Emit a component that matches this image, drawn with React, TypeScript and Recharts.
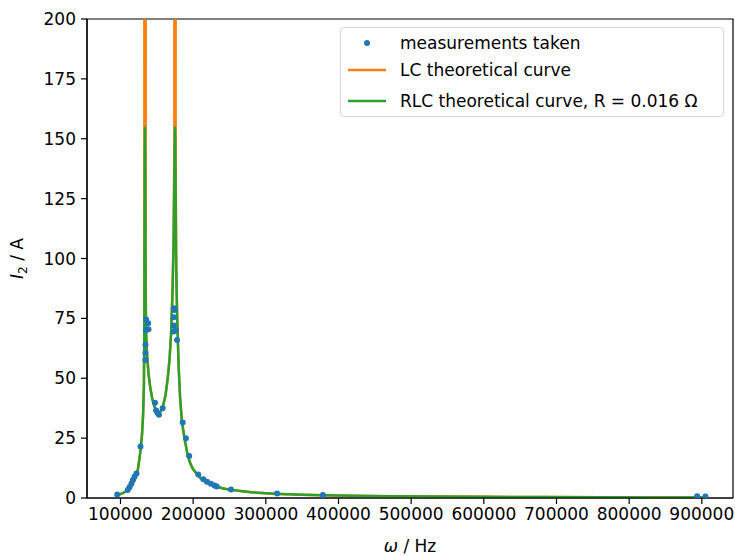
import React from 'react';
import { ComposedChart, Line, Scatter, XAxis, YAxis, ReferenceArea } from 'recharts';

// measured points (omega in Hz, I2 in A)
const measHz = [95500, 110000, 112400, 115000, 117000, 119300, 122000, 127500,
  134200, 134300, 134400, 134800, 135300, 138000, 138500,
  147500, 149000, 151000, 153000, 158000,
  173300, 173600, 174600, 173400, 173200, 176300, 177800,
  185600, 190000, 194500, 207000, 214000, 219000, 224500, 229500, 232500, 252000,
  315500, 378500, 893500, 905000];
const measI = [1.5, 3.3, 4.5, 6.0, 7.5, 8.9, 10.2, 21.5,
  57.6, 60.5, 64, 70, 74.5, 73, 70.5,
  39.8, 36.5, 35.5, 34.8, 37.5,
  75.5, 79.2, 78.5, 72, 69.5, 70, 66,
  31.5, 25, 17.5, 9.8, 7.8, 6.8, 6.0, 5.2, 4.8, 3.5,
  1.9, 1.3, 0.7, 0.6];

// RLC theoretical curve
const rlcHz = [94000, 100000, 105000, 110000, 115000, 120000, 124000, 127000, 129500, 131000,
  132200, 132800, 133300, 133700, 134100, 134600, 135300, 136500, 138500, 141000, 144000, 147000,
  150000, 153000, 156000, 159000, 162000, 165000, 167500, 169500, 171500, 173000,
  174200, 174600, 175000, 175400, 175900, 176700, 178000, 180000, 182000, 184500, 188000, 192000,
  196000, 200000, 205000, 210000, 216000, 222000, 230000, 240000, 250000, 265000,
  280000, 300000, 320000, 350000, 380000, 420000, 470000, 530000, 600000, 680000,
  760000, 840000, 902000];
const rlcI = [1.0, 1.6, 2.3, 3.3, 5.0, 8.0, 12, 18.5, 26, 34,
  46, 68, 140, 155, 140, 82, 68, 60, 52, 46, 41, 38,
  36, 35.5, 36.5, 39, 43, 50, 58, 68, 85, 105,
  135, 150, 155, 150, 125, 95, 75, 55, 42, 32, 25, 18.5,
  14.5, 12, 10, 8.3, 6.9, 6, 5, 4.1, 3.5, 2.9,
  2.4, 2.0, 1.7, 1.4, 1.15, 0.95, 0.75, 0.6, 0.48, 0.38,
  0.3, 0.25, 0.22];

// LC theoretical curve (diverges at the two resonances)
const lcHz = [94000, 100000, 105000, 110000, 115000, 120000, 124000, 127000, 129500, 131000,
  132200, 132800, 133100, 134300, 134700, 135300, 136500, 138500, 141000, 144000, 147000,
  150000, 153000, 156000, 159000, 162000, 165000, 167500, 169500, 171500, 173000,
  174200, 174400, 175600, 175900, 176700, 178000, 180000, 182000, 184500, 188000, 192000,
  196000, 200000, 205000, 210000, 216000, 222000, 230000, 240000, 250000, 265000,
  280000, 300000, 320000, 350000, 380000, 420000, 470000, 530000, 600000, 680000,
  760000, 840000, 902000];
const lcI = [1.0, 1.6, 2.3, 3.3, 5.0, 8.0, 12, 18.5, 26, 34,
  47, 74, 600, 600, 90, 69, 60, 52, 46, 41, 38,
  36, 35.5, 36.5, 39, 43, 50, 58, 68, 86, 108,
  150, 600, 600, 140, 98, 76, 55, 42, 32, 25, 18.5,
  14.5, 12, 10, 8.3, 6.9, 6, 5, 4.1, 3.5, 2.9,
  2.4, 2.0, 1.7, 1.4, 1.15, 0.95, 0.75, 0.6, 0.48, 0.38,
  0.3, 0.25, 0.22];

const xTicks = [100000, 200000, 300000, 400000, 500000, 600000, 700000, 800000, 900000];
const yTicks = [0, 25, 50, 75, 100, 125, 150, 175, 200];
const xDomain = [53900, 942900];
const yDomain = [0, 200];

const legendLabels = ['measurements taken', 'LC theoretical curve', 'RLC theoretical curve, R = 0.016 Ω'];

const FONT = '"DejaVu Sans", "Liberation Sans", sans-serif';
const BLUE = '#1f77b4';
const ORANGE = '#ff7f0e';
const GREEN = '#2ca02c';

const measData = measHz.map((x, i) => ({ x, y: measI[i] }));
const rlcData = rlcHz.map((x, i) => ({ x, y: rlcI[i] }));
const lcData = lcHz.map((x, i) => ({ x, y: lcI[i] }));

const tickStyle = { fontSize: 17, fontFamily: FONT, fill: '#000' };

const Dot = (p: any) => <circle cx={p.cx} cy={p.cy} r={3} fill={BLUE} />;

const XLabel = (props: any) => {
  const vb = props.viewBox || { x: 87, y: 498, width: 646, height: 30 };
  return (
    <text x={vb.x + vb.width / 2} y={vb.y + vb.height + 24} textAnchor="middle"
      fontFamily={FONT} fontSize={17} fill="#000">
      <tspan fontStyle="italic">ω</tspan><tspan> / Hz</tspan>
    </text>
  );
};

const YLabel = (props: any) => {
  const vb = props.viewBox || { x: 0, y: 19, width: 87, height: 479 };
  const cx = 23;
  const cy = vb.y + vb.height / 2;
  return (
    <text transform={`translate(${cx},${cy}) rotate(-90)`} textAnchor="middle"
      fontFamily={FONT} fontSize={17} fill="#000">
      <tspan fontStyle="italic">I</tspan>
      <tspan fontSize={12} dy={4}>2</tspan>
      <tspan dy={-4}> / A</tspan>
    </text>
  );
};

const LegendBox = () => {
  const rows = [41.7, 69, 100];
  return (
    <div style={{
      position: 'absolute', left: 340, top: 27, width: 384, height: 90,
      border: '1px solid #d6d6d6', borderRadius: 4, background: 'rgba(255,255,255,0.8)',
      boxSizing: 'border-box', fontFamily: FONT, fontSize: 17, color: '#000'
    }}>
      {legendLabels.map((lab, i) => (
        <div key={i} style={{ position: 'absolute', left: 0, top: rows[i] - 27 - 12, height: 24, width: 382 }}>
          <svg width={50} height={24} style={{ position: 'absolute', left: 0, top: 0 }}>
            {i === 0 ? (
              <circle cx={26} cy={12} r={3} fill={BLUE} />
            ) : (
              <line x1={7} x2={45} y1={12} y2={12} stroke={i === 1 ? ORANGE : GREEN} strokeWidth={2.5} />
            )}
          </svg>
          <span style={{ position: 'absolute', left: 59, top: 0, lineHeight: '24px', whiteSpace: 'nowrap' }}>{lab}</span>
        </div>
      ))}
    </div>
  );
};

export default function App() {
  return (
    <div style={{ position: 'absolute', left: 0, top: 0, width: 735, height: 556, background: '#fff' }}>
      <ComposedChart width={735} height={556} margin={{ top: 19, right: 2, bottom: 28, left: 0 }}>
        <XAxis dataKey="x" type="number" domain={xDomain} ticks={xTicks}
          allowDataOverflow tick={tickStyle} tickSize={6} tickMargin={4} height={30}
          stroke="#000" strokeWidth={1.2} interval={0} label={<XLabel />} />
        <YAxis dataKey="y" type="number" domain={yDomain} ticks={yTicks}
          allowDataOverflow tick={tickStyle} tickSize={6} tickMargin={5} width={87}
          stroke="#000" strokeWidth={1.2} interval={0} label={<YLabel />} />
        <Scatter data={measData} dataKey="y" fill={BLUE} shape={Dot} isAnimationActive={false} />
        <Line data={lcData} dataKey="y" type="linear" stroke={ORANGE} strokeWidth={2.5}
          dot={false} activeDot={false} isAnimationActive={false} />
        <Line data={rlcData} dataKey="y" type="linear" stroke={GREEN} strokeWidth={2.5}
          dot={false} activeDot={false} isAnimationActive={false} />
        <ReferenceArea x1={xDomain[0]} x2={xDomain[1]} y1={yDomain[0]} y2={yDomain[1]}
          fill="none" fillOpacity={0} stroke="#000" strokeWidth={1.2} strokeOpacity={1} ifOverflow="visible" />
      </ComposedChart>
      <LegendBox />
    </div>
  );
}
